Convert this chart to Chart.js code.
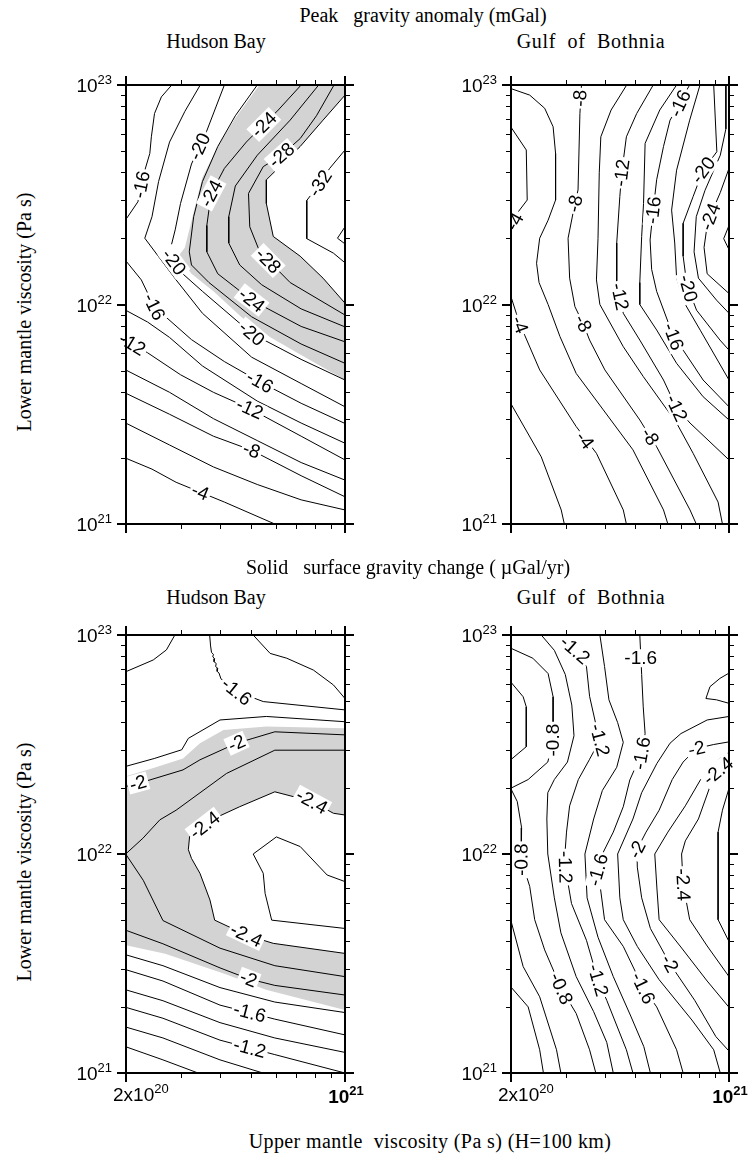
<!DOCTYPE html>
<html>
<head>
<meta charset="utf-8">
<script src="https://cdn.jsdelivr.net/npm/chart.js@4.4.1/dist/chart.umd.min.js"></script>
<style>
  html, body { margin: 0; padding: 0; background: #fff; }
  body { width: 750px; height: 1153px; position: relative; overflow: hidden; }
  canvas { position: absolute; }
  .t { position: absolute; z-index: 2; font-family: "Liberation Serif", "Times New Roman", serif;
       font-size: 20px; line-height: 1; color: #000; white-space: pre; transform: translate(-50%, -50%); }
  .rot { transform: translate(-50%, -50%) rotate(-90deg); }
  .wide { letter-spacing: 0.7px; }
  .wider { letter-spacing: 0.4px; }
</style>
</head>
<body>
<div class="t" style="left:423px;top:15px">Peak   gravity anomaly (mGal)</div>
<div class="t" style="left:216px;top:41px">Hudson Bay</div>
<div class="t wide" style="left:591px;top:41px">Gulf  of  Bothnia</div>
<div class="t" style="left:408px;top:567px">Solid   surface gravity change ( µGal/yr)</div>
<div class="t" style="left:216px;top:597px">Hudson Bay</div>
<div class="t wide" style="left:591px;top:597px">Gulf  of  Bothnia</div>
<div class="t wider" style="left:430px;top:1141px">Upper mantle  viscosity (Pa s) (H=100 km)</div>
<div class="t rot" style="left:24px;top:312px">Lower mantle viscosity (Pa s)</div>
<div class="t rot" style="left:24px;top:862px">Lower mantle viscosity (Pa s)</div>

<script>
// Axes: log10 of upper mantle viscosity (x) and lower mantle viscosity (y), Pa s.
const upperViscRange = [20.30103, 21];
const lowerViscRange = [21, 23];
const upperViscTicks = [[20.30103, '2x10', '20'], [21, '10', '21']];
const upperViscMinor = [20.4771, 20.6021, 20.699, 20.7782, 20.8451, 20.9031, 20.9542];
const lowerViscTicks = [[21, '10', '21'], [22, '10', '22'], [23, '10', '23']];
const lowerViscMinor = [21.301, 21.4771, 21.6021, 21.699, 21.7782, 21.8451, 21.9031, 21.9542,
                        22.301, 22.4771, 22.6021, 22.699, 22.7782, 22.8451, 22.9031, 22.9542];

// Peak gravity anomaly, Hudson Bay (mGal): [level, [[logUpper, logLower], ...]]
const hudsonPeakLines = [
  [-4,  [[20.3,21.3],[20.384,21.25],[20.461,21.19],[20.615,21.1],[20.776,21.0]]],
  [-6,  [[20.3,21.46],[20.44,21.36],[20.58,21.26],[20.72,21.18],[20.86,21.11],[21,21.064]]],
  [-8,  [[20.3,21.596],[20.44,21.5],[20.58,21.4],[20.702,21.336],[20.86,21.22],[21,21.124]]],
  [-10, [[20.3,21.702],[20.44,21.6],[20.58,21.48],[20.72,21.38],[20.86,21.28],[21,21.2]]],
  [-12, [[20.3,21.84],[20.37,21.78],[20.475,21.68],[20.58,21.6],[20.696,21.526],[20.86,21.4],[21,21.292]]],
  [-14, [[20.3,21.974],[20.37,21.92],[20.44,21.85],[20.545,21.72],[20.72,21.56],[20.86,21.46],[21,21.368]]],
  [-16, [[20.447,23],[20.414,22.946],[20.392,22.87],[20.382,22.764],[20.377,22.688],[20.355,22.582],[20.339,22.468],[20.3,22.386]]],
  [-16, [[20.3,22.2],[20.35,22.112],[20.391,21.99],[20.51,21.84],[20.615,21.74],[20.728,21.648],[20.86,21.55],[21,21.458]]],
  [-18, [[20.538,23],[20.489,22.88],[20.44,22.74],[20.405,22.56],[20.384,22.4],[20.361,22.302],[20.404,22.22],[20.461,22.112],[20.545,21.96],[20.702,21.76],[20.86,21.64],[21,21.534]]],
  [-20, [[20.615,23],[20.558,22.788],[20.51,22.64],[20.475,22.46],[20.458,22.34],[20.444,22.26],[20.44,22.22],[20.482,22.14],[20.545,22.06],[20.702,21.868],[20.86,21.75],[21,21.656]]],
  [-22, [[20.72,23],[20.65,22.86],[20.594,22.72],[20.545,22.56],[20.517,22.4],[20.503,22.24],[20.51,22.18],[20.566,22.1],[20.702,21.944],[20.86,21.82],[21,21.732]]],
  [-24, [[20.86,23],[20.787,22.886],[20.685,22.74],[20.615,22.62],[20.573,22.506],[20.559,22.36],[20.559,22.24],[20.594,22.14],[20.702,22.02],[20.86,21.9],[21,21.83]]],
  [-26, [[20.916,23],[20.825,22.84],[20.72,22.68],[20.65,22.54],[20.629,22.4],[20.629,22.28],[20.664,22.18],[20.734,22.09],[20.86,21.98],[21,21.898]]],
  [-28, [[20.965,23],[20.909,22.86],[20.857,22.756],[20.797,22.68],[20.739,22.628],[20.692,22.506],[20.696,22.354],[20.728,22.24],[20.825,22.1],[21,21.952]]],
  [-30, [[21,22.954],[20.93,22.84],[20.857,22.72],[20.749,22.568],[20.749,22.46],[20.771,22.31],[20.857,22.22],[20.93,22.12],[21,22.006]]],
  [-32, [[21,22.704],[20.951,22.62],[20.92,22.552],[20.878,22.474],[20.878,22.3],[20.963,22.234],[21,22.19]]],
  [-34, [[21,22.354],[20.976,22.302],[21,22.276]]]
];
const hudsonPeakLabels = [
  [-16,20.35,22.546],[-20,20.536,22.72],[-24,20.741,22.82],[-28,20.797,22.68],[-32,20.92,22.552],
  [-24,20.573,22.506],[-20,20.454,22.194],[-28,20.755,22.2],[-16,20.391,21.99],[-12,20.321,21.82],
  [-24,20.702,22.02],[-20,20.702,21.868],[-16,20.728,21.648],[-12,20.696,21.526],[-8,20.702,21.336],[-4,20.538,21.146]
];
const hudsonPeakShade = [[20.727,23],[20.65,22.85],[20.594,22.72],[20.545,22.58],[20.517,22.42],[20.489,22.26],
  [20.468,22.22],[20.51,22.14],[20.58,22.06],[20.702,21.9],[20.86,21.77],[21,21.656],[21,22.006],[20.93,22.12],
  [20.857,22.22],[20.771,22.31],[20.749,22.46],[20.749,22.568],[20.857,22.72],[20.93,22.84],[21,22.954],[21,23]];

// Peak gravity anomaly, Gulf of Bothnia (mGal)
const bothniaPeakLines = [
  [-2,  [[20.3,21.55],[20.398,21.306],[20.462,21.064],[20.472,21.0]]],
  [-4,  [[20.3,22.81],[20.35,22.704],[20.353,22.476],[20.324,22.422],[20.3,22.36]]],
  [-4,  [[20.3,22.04],[20.318,21.96],[20.345,21.86],[20.393,21.702],[20.51,21.444],[20.575,21.322],[20.661,21.064],[20.671,21.0]]],
  [-6,  [[20.3,22.984],[20.361,22.954],[20.409,22.894],[20.436,22.81],[20.444,22.688],[20.444,22.476],[20.42,22.384],[20.393,22.302],[20.383,22.188],[20.391,22.1],[20.42,22.0],[20.458,21.854],[20.51,21.686],[20.597,21.52],[20.692,21.338],[20.79,21.064],[20.804,21.0]]],
  [-8,  [[20.527,23],[20.522,22.87],[20.516,22.522],[20.506,22.46],[20.484,22.302],[20.489,22.12],[20.506,21.99],[20.532,21.914],[20.553,21.838],[20.602,21.702],[20.714,21.474],[20.747,21.398],[20.768,21.352],[20.875,21.064],[20.895,21.0]]],
  [-10, [[20.672,23],[20.622,22.886],[20.589,22.764],[20.584,22.6],[20.58,22.3],[20.575,22.112],[20.586,22.0],[20.661,21.808],[20.725,21.672],[20.832,21.46],[20.885,21.322],[20.965,21.1],[20.979,21.0]]],
  [-12, [[20.757,23],[20.704,22.87],[20.671,22.764],[20.656,22.6],[20.65,22.492],[20.64,22.28],[20.64,22.1],[20.661,21.96],[20.714,21.838],[20.79,21.656],[20.832,21.528],[20.875,21.46],[21,21.292]]],
  [-14, [[20.832,23],[20.778,22.886],[20.731,22.734],[20.726,22.46],[20.72,22.31],[20.714,22.1],[20.714,22.0],[20.768,21.884],[20.832,21.732],[20.917,21.58],[21,21.474]]],
  [-16, [[20.874,23],[20.858,22.962],[20.843,22.916],[20.811,22.84],[20.79,22.72],[20.768,22.568],[20.757,22.43],[20.747,22.294],[20.752,22.16],[20.768,22.06],[20.822,21.854],[20.853,21.792],[20.917,21.656],[21,21.534]]],
  [-18, [[20.907,23],[20.874,22.84],[20.832,22.612],[20.816,22.43],[20.826,22.28],[20.832,22.12],[20.86,22.0],[20.909,21.88],[21,21.656]]],
  [-20, [[20.951,23],[20.961,22.696],[20.917,22.612],[20.885,22.492],[20.853,22.37],[20.853,22.22],[20.864,22.1],[20.869,22.074],[20.896,21.974],[20.971,21.838],[21,21.792]]],
  [-22, [[20.99,23],[20.99,22.8],[20.972,22.68],[20.923,22.52],[20.895,22.4],[20.888,22.24],[20.902,22.12],[20.96,22.02],[21,21.96]]],
  [-24, [[21,22.62],[20.972,22.51],[20.951,22.44],[20.93,22.36],[20.92,22.26],[20.93,22.14],[21,22.05]]],
  [-26, [[21,22.36],[20.983,22.3],[21,22.25]]]
];
const bothniaPeakLabels = [
  [-8,20.522,22.94],[-12,20.656,22.6],[-16,20.843,22.916],[-20,20.917,22.612],[-24,20.94,22.4],
  [-4,20.313,22.378],[-8,20.506,22.46],[-16,20.757,22.43],[-4,20.329,21.908],[-8,20.532,21.914],
  [-12,20.65,22.036],[-16,20.822,21.854],[-20,20.869,22.074],[-4,20.538,21.382],[-8,20.747,21.398],[-12,20.832,21.528]
];

// Solid surface gravity change, Hudson Bay (µGal/yr)
const hudsonRateCore = [[21,22.178],[20.963,22.186],[20.894,22.24],[20.776,22.284],[20.664,22.216],[20.573,22.156],
  [20.504,22.08],[20.5,22.02],[20.51,21.98],[20.537,21.912],[20.569,21.79],[20.584,21.698],[20.685,21.63],[20.771,21.592],[21,21.546]];
const hudsonRateLines = [
  [-0.8, [[20.3,21.12],[20.419,21.06],[20.531,21.0]]],
  [-1.0, [[20.3,21.21],[20.419,21.16],[20.601,21.06],[20.738,21.0]]],
  [-1.2, [[20.3,21.3],[20.419,21.25],[20.601,21.15],[20.776,21.084],[21,21.0]]],
  [-1.4, [[20.3,21.38],[20.419,21.33],[20.601,21.23],[20.776,21.16],[21,21.094]]],
  [-1.4, [[20.707,23],[20.761,22.916],[20.814,22.894],[20.899,22.84],[20.963,22.772],[21,22.71]]],
  [-1.6, [[20.3,21.472],[20.419,21.42],[20.601,21.31],[20.776,21.246],[21,21.174]]],
  [-1.6, [[20.457,23],[20.43,22.932],[20.388,22.886],[20.3,22.832]]],
  [-1.6, [[20.568,23],[20.571,22.95],[20.574,22.92],[20.58,22.912],[20.578,22.9],[20.584,22.892],[20.582,22.878],[20.589,22.87],[20.587,22.856],[20.594,22.848],[20.592,22.834],[20.598,22.826],[20.604,22.8],[20.654,22.742],[20.739,22.696],[21,22.658]]],
  [-1.8, [[20.3,22.4],[20.391,22.436],[20.479,22.476],[20.5,22.528],[20.601,22.612],[20.749,22.628],[21,22.604]]],
  [-1.8, [[20.3,21.54],[20.419,21.49],[20.601,21.39],[20.776,21.324],[21,21.276]]],
  [-2.0, [[20.3,22.308],[20.377,22.338],[20.483,22.384],[20.537,22.43],[20.654,22.506],[20.706,22.528],[20.776,22.558],[21,22.544]]],
  [-2.0, [[20.3,21.652],[20.419,21.59],[20.601,21.48],[20.692,21.43],[20.776,21.4],[21,21.356]]],
  [-2.2, [[21,22.474],[20.776,22.474],[20.622,22.368],[20.461,22.2],[20.409,22.156],[20.355,22.072],[20.3,22.0],[20.356,21.88],[20.419,21.696],[20.601,21.57],[20.776,21.49],[21,21.44]]],
  [-2.4, hudsonRateCore],
  [-2.6, [[21,21.874],[20.943,21.904],[20.857,22.034],[20.781,22.078],[20.707,22.0],[20.739,21.912],[20.745,21.82],[20.766,21.698],[21,21.66]]]
];
const hudsonRateLabels = [
  [-1.6,20.654,22.742],[-2,20.654,22.506],[-2,20.339,22.324],[-2.4,20.894,22.24],[-2.4,20.552,22.132],
  [-2.4,20.685,21.63],[-2,20.692,21.43],[-1.6,20.696,21.276],[-1.2,20.696,21.114]
];
const hudsonRateShade = [[20.3,22.354],[20.391,22.394],[20.483,22.436],[20.537,22.506],[20.612,22.566],[20.749,22.582],
  [21,22.574],[21,21.288],[20.748,21.38],[20.622,21.45],[20.426,21.544],[20.3,21.584]];

// Solid surface gravity change, Gulf of Bothnia (µGal/yr)
const bothniaRateLines = [
  [-0.4, [[20.3,21.394],[20.356,21.302],[20.393,21.106],[20.405,21.0]]],
  [-0.6, [[20.3,22.786],[20.34,22.718],[20.35,22.672],[20.35,22.49],[20.3,22.43]]],
  [-0.6, [[20.3,21.7],[20.34,21.486],[20.393,21.348],[20.447,21.106],[20.461,21.0]]],
  [-0.8, [[20.3,22.94],[20.371,22.894],[20.42,22.824],[20.436,22.718],[20.436,22.58],[20.436,22.52],[20.419,22.42],[20.356,22.34],[20.3,22.3],[20.321,22.24],[20.335,22.12],[20.334,21.974],[20.361,21.852],[20.377,21.7],[20.409,21.562],[20.462,21.386],[20.51,21.272],[20.553,21.106],[20.573,21.0]]],
  [-1.0, [[20.398,23],[20.44,22.93],[20.475,22.82],[20.496,22.68],[20.503,22.54],[20.482,22.42],[20.44,22.34],[20.419,22.28],[20.416,22.16],[20.419,22.0],[20.44,21.8],[20.461,21.64],[20.51,21.44],[20.566,21.28],[20.608,21.14],[20.629,21.0]]],
  [-1.2, [[20.484,23],[20.488,22.98],[20.481,22.968],[20.49,22.952],[20.506,22.932],[20.543,22.856],[20.553,22.72],[20.575,22.58],[20.586,22.52],[20.552,22.43],[20.517,22.34],[20.489,22.22],[20.479,22.1],[20.474,22.0],[20.475,21.94],[20.495,21.774],[20.543,21.606],[20.58,21.424],[20.608,21.332],[20.671,21.106],[20.692,21.0]]],
  [-1.4, [[20.586,23],[20.601,22.856],[20.615,22.704],[20.643,22.6],[20.661,22.51],[20.64,22.396],[20.594,22.29],[20.566,22.16],[20.538,22.0],[20.545,21.8],[20.58,21.62],[20.629,21.44],[20.685,21.26],[20.727,21.12],[20.748,21.0]]],
  [-1.6, [[20.714,23],[20.72,22.82],[20.725,22.672],[20.731,22.55],[20.72,22.46],[20.682,22.338],[20.661,22.216],[20.629,22.1],[20.594,22.0],[20.58,21.928],[20.601,21.7],[20.661,21.578],[20.725,21.388],[20.768,21.302],[20.832,21.106],[20.853,21.0]]],
  [-1.8, [[21,22.826],[20.971,22.802],[20.939,22.764],[20.926,22.71],[20.96,22.704],[21,22.688]]],
  [-1.8, [[21,22.628],[20.93,22.612],[20.846,22.55],[20.811,22.506],[20.769,22.414],[20.72,22.28],[20.692,22.16],[20.643,22.0],[20.65,21.8],[20.661,21.7],[20.706,21.578],[20.776,21.426],[20.881,21.242],[20.951,21.106],[20.972,21.0]]],
  [-2.0, [[21,22.512],[20.951,22.5],[20.896,22.482],[20.853,22.42],[20.818,22.34],[20.776,22.2],[20.734,22.1],[20.705,22.02],[20.706,21.94],[20.72,21.8],[20.748,21.66],[20.81,21.5],[20.89,21.332],[20.958,21.166],[21,21.1]]],
  [-2.2, [[21,22.464],[20.965,22.43],[20.909,22.34],[20.86,22.22],[20.804,22.1],[20.762,22.0],[20.769,21.84],[20.776,21.7],[20.843,21.58],[20.93,21.42],[21,21.3]]],
  [-2.4, [[21,22.42],[20.965,22.38],[20.937,22.3],[20.902,22.16],[20.86,22.06],[20.848,22.0],[20.853,21.86],[20.874,21.7],[20.93,21.58],[21,21.44]]],
  [-2.6, [[21,22.3],[20.979,22.2],[20.965,22.1],[20.965,21.7],[21,21.6]]]
];
const bothniaRateLabels = [
  [-1.2,20.506,22.932],[-1.6,20.717,22.894,0],[-0.8,20.436,22.52],[-1.2,20.586,22.52],[-1.6,20.72,22.46],
  [-2,20.896,22.482],[-2.4,20.965,22.38],[-0.8,20.334,21.974],[-1.2,20.475,21.94],[-1.6,20.58,21.928],
  [-2,20.705,22.02],[-2.4,20.853,21.86],[-0.8,20.462,21.386],[-1.2,20.58,21.424],[-1.6,20.725,21.388],[-2,20.81,21.5]
];

// Panel placement on the page (plot-area rectangles in CSS px).
const panels = [
  { left:126, top:85,  width:219, height:439, lines:hudsonPeakLines,  labels:hudsonPeakLabels,  shade:hudsonPeakShade, hole:null,           xLabels:false },
  { left:511, top:85,  width:218, height:439, lines:bothniaPeakLines, labels:bothniaPeakLabels, shade:null,            hole:null,           xLabels:false },
  { left:126, top:635, width:219, height:438, lines:hudsonRateLines,  labels:hudsonRateLabels,  shade:hudsonRateShade, hole:hudsonRateCore, xLabels:true },
  { left:511, top:635, width:218, height:438, lines:bothniaRateLines, labels:bothniaRateLabels, shade:null,            hole:null,           xLabels:true }
];
const margin = { left: 80, right: 20, top: 20, bottom: 48 };
const SANS = '"Liberation Sans", Arial, Helvetica, sans-serif';

function drawPower(ctx, base, exp, x, y, align, bold) {
  const w = bold ? 'bold ' : '';
  const bf = w + '19px ' + SANS, ef = w + '13px ' + SANS;
  ctx.font = bf; const bw = ctx.measureText(base).width;
  ctx.font = ef; const ew = ctx.measureText(exp).width;
  const total = bw + ew;
  const sx = align === 'right' ? x - total : align === 'center' ? x - total / 2 : x;
  ctx.textAlign = 'left'; ctx.textBaseline = 'alphabetic'; ctx.fillStyle = '#000';
  ctx.font = bf; ctx.fillText(base, sx, y);
  ctx.font = ef; ctx.fillText(exp, sx + bw, y - 8);
}

// Contour labels: white box rotated along the local direction of the contour.
const contourLabels = {
  id: 'contourLabels',
  afterDatasetsDraw(chart, args, opts) {
    const { ctx, scales: { x, y } } = chart;
    const px = p => ({ x: x.getPixelForValue(p[0]), y: y.getPixelForValue(p[1]) });
    ctx.save();
    ctx.font = '19px ' + SANS;
    for (const lab of opts.labels) {
      const [lv, vx, vy, fixed] = lab;
      const c = px([vx, vy]);
      let ang = 0, best = Infinity;
      if (fixed === undefined) {
        for (const [l2, poly] of opts.lines) {
          if (l2 !== lv) continue;
          for (let i = 0; i < poly.length - 1; i++) {
            const a = px(poly[i]), b = px(poly[i + 1]);
            const dx = b.x - a.x, dy = b.y - a.y, L = dx * dx + dy * dy || 1;
            let t = ((c.x - a.x) * dx + (c.y - a.y) * dy) / L;
            t = Math.max(0, Math.min(1, t));
            const d = Math.hypot(a.x + t * dx - c.x, a.y + t * dy - c.y);
            if (d < best) { best = d; ang = Math.atan2(dy, dx); }
          }
        }
        if (ang >= Math.PI / 2 - 1e-6) ang -= Math.PI;
        if (ang < -Math.PI / 2 - 1e-6) ang += Math.PI;
      } else {
        ang = fixed * Math.PI / 180;
      }
      const txt = String(lv);
      const w = ctx.measureText(txt).width;
      ctx.save();
      ctx.translate(c.x, c.y);
      ctx.rotate(ang);
      ctx.fillStyle = '#fff';
      ctx.fillRect(-w / 2 - 2, -9, w + 4, 18);
      ctx.fillStyle = '#000';
      ctx.textAlign = 'center';
      ctx.textBaseline = 'middle';
      ctx.fillText(txt, 0, 1);
      ctx.restore();
    }
    ctx.restore();
  }
};

// Frame, outward tick marks and power-of-ten annotations.
const frameTicks = {
  id: 'frameTicks',
  afterDraw(chart, args, opts) {
    const { ctx, chartArea: a, scales: { x, y } } = chart;
    ctx.save();
    ctx.strokeStyle = '#000';
    const seg = (x1, y1, x2, y2, lw) => { ctx.lineWidth = lw; ctx.beginPath(); ctx.moveTo(x1, y1); ctx.lineTo(x2, y2); ctx.stroke(); };
    for (const v of upperViscMinor) {
      const p = Math.round(x.getPixelForValue(v)) + 0.5;
      seg(p, a.bottom, p, a.bottom + 5, 1); seg(p, a.top, p, a.top - 5, 1);
    }
    for (const [v] of upperViscTicks) {
      const p = Math.round(x.getPixelForValue(v));
      seg(p, a.bottom, p, a.bottom + 9, 2); seg(p, a.top, p, a.top - 9, 2);
    }
    for (const v of lowerViscMinor) {
      const p = Math.round(y.getPixelForValue(v)) + 0.5;
      seg(a.left, p, a.left - 5, p, 1); seg(a.right, p, a.right + 5, p, 1);
    }
    for (const [v] of lowerViscTicks) {
      const p = Math.round(y.getPixelForValue(v));
      seg(a.left, p, a.left - 9, p, 2); seg(a.right, p, a.right + 9, p, 2);
    }
    ctx.lineWidth = 2;
    ctx.strokeRect(a.left, a.top, a.right - a.left, a.bottom - a.top);
    for (const [v, base, exp] of lowerViscTicks) {
      drawPower(ctx, base, exp, a.left - 14, y.getPixelForValue(v) + 7, 'right', false);
    }
    if (opts.xLabels) {
      const [v0, b0, e0] = upperViscTicks[0];
      drawPower(ctx, b0, e0, x.getPixelForValue(v0) - 13, a.bottom + 28, 'left', false);
      const [v1, b1, e1] = upperViscTicks[1];
      drawPower(ctx, b1, e1, x.getPixelForValue(v1) + 1, a.bottom + 30, 'center', true);
    }
    ctx.restore();
  }
};

const toXY = pts => pts.map(([x, y]) => ({ x, y }));

for (const p of panels) {
  const cv = document.createElement('canvas');
  const W = p.width + margin.left + margin.right, H = p.height + margin.top + margin.bottom;
  cv.width = W; cv.height = H;
  cv.style.left = (p.left - margin.left) + 'px';
  cv.style.top = (p.top - margin.top) + 'px';
  cv.style.width = W + 'px'; cv.style.height = H + 'px';
  document.body.appendChild(cv);

  const datasets = [];
  if (p.shade) datasets.push({ data: toXY(p.shade), fill: 'shape', backgroundColor: '#d3d3d3',
    borderColor: 'rgba(0,0,0,0)', borderWidth: 0, pointRadius: 0, tension: 0, order: 3 });
  if (p.hole) datasets.push({ data: toXY(p.hole), fill: 'shape', backgroundColor: '#ffffff',
    borderColor: 'rgba(0,0,0,0)', borderWidth: 0, pointRadius: 0, tension: 0, order: 2 });
  for (const [lv, poly] of p.lines) {
    datasets.push({ label: String(lv), data: toXY(poly), fill: false, borderColor: '#000',
      borderWidth: 1, pointRadius: 0, tension: 0, order: 1 });
  }

  new Chart(cv, {
    type: 'line',
    data: { datasets },
    options: {
      responsive: false, animation: false, events: [],
      layout: { padding: { left: margin.left, right: margin.right, top: margin.top, bottom: margin.bottom } },
      plugins: {
        legend: { display: false }, tooltip: { enabled: false },
        contourLabels: { labels: p.labels, lines: p.lines },
        frameTicks: { xLabels: p.xLabels }
      },
      scales: {
        x: { type: 'linear', min: upperViscRange[0], max: upperViscRange[1], display: false },
        y: { type: 'linear', min: lowerViscRange[0], max: lowerViscRange[1], display: false }
      }
    },
    plugins: [contourLabels, frameTicks]
  });
}
</script>
</body>
</html>
